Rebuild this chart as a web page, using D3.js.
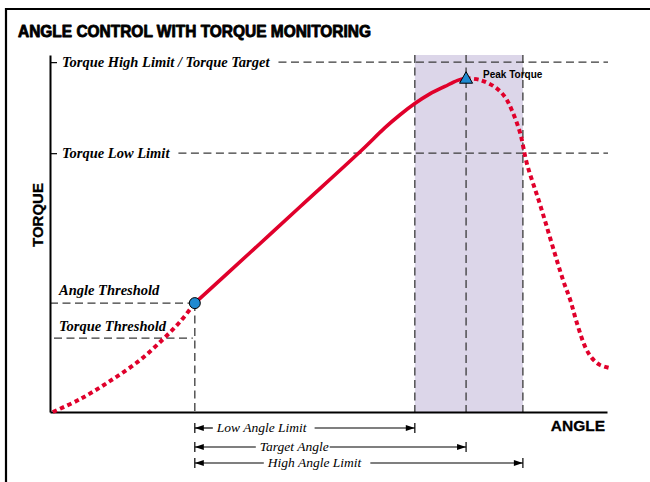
<!DOCTYPE html>
<html>
<head>
<meta charset="utf-8">
<script src="https://cdn.jsdelivr.net/npm/d3@7"></script>
<style>
  html, body { margin: 0; padding: 0; background: #fff; }
  svg { display: block; }
</style>
</head>
<body>
<svg id="chart" width="650" height="482"></svg>
<script>
// Torque (% of full scale) versus rotation angle (% of full scale)
const rampAngle   = [0.5, 5.4, 10.8, 16.2, 20.3, 23.3, 26.0];
const rampTorque  = [0.0, 3.6, 8.7, 14.6, 20.4, 25.2, 30.5];

const controlAngle  = [26.0, 35.9, 44.9, 56.0, 60.1, 62.8, 65.5, 68.2, 70.9, 73.2, 74.7];
const controlTorque = [30.5, 44.6, 57.5, 73.4, 79.6, 83.2, 86.4, 89.1, 91.2, 92.9, 93.5];

const yieldAngle  = [74.7, 77.2, 79.9, 81.7, 82.9, 84.4, 85.6, 88.0, 92.1, 93.4, 94.6, 96.1, 97.3, 98.7, 100.5];
const yieldTorque = [93.5, 93.0, 91.0, 88.2, 84.6, 78.2, 69.7, 58.0, 37.0, 31.4, 24.9, 18.2, 15.1, 13.2, 12.3];

// Torque limit lines
const limitLabels = ["Torque High Limit / Torque Target", "Torque Low Limit"];
const limitTorque = [98.0, 72.5];

// Threshold point where angle counting begins
const thresholdAngle = 26.0;
const angleThresholdTorque = 30.5;
const torqueThreshold = 20.7;

// Angle window
const angleLabels = ["Low Angle Limit", "Target Angle", "High Angle Limit"];
const angleValues = [65.5, 74.7, 84.9];

// Peak torque
const peakAngle = 74.7;
const peakTorque = 93.5;

const RED = "#e0002b", BLUE = "#1f8ad0", DASH = "#3a3a3a";

const svg = d3.select("#chart");

const x = d3.scaleLinear().domain([0, 100]).range([50, 607]);
const y = d3.scaleLinear().domain([0, 100]).range([412, 55]);

// Outer frame (top and left rules)
svg.append("line").attr("x1", 5).attr("x2", 650).attr("y1", 9).attr("y2", 9)
  .attr("stroke", "#000").attr("stroke-width", 2.2);
svg.append("line").attr("x1", 6).attr("x2", 6).attr("y1", 8).attr("y2", 482)
  .attr("stroke", "#000").attr("stroke-width", 2.2);

// Title
svg.append("text")
  .attr("x", 18).attr("y", 37)
  .attr("font-family", "Liberation Sans, Arial, sans-serif")
  .attr("font-weight", "bold").attr("font-size", 17)
  .attr("stroke", "#000").attr("stroke-width", 0.9).attr("stroke-linejoin", "round")
  .attr("textLength", 353).attr("lengthAdjust", "spacingAndGlyphs")
  .text("ANGLE CONTROL WITH TORQUE MONITORING");

// Angle window band
svg.append("rect")
  .attr("x", x(angleValues[0])).attr("y", y(100))
  .attr("width", x(angleValues[2]) - x(angleValues[0]))
  .attr("height", y(0) - y(100))
  .attr("fill", "#dcd6e9");

const dashed = sel => sel.attr("stroke", DASH).attr("stroke-width", 1.3)
  .attr("stroke-dasharray", "8,4.5").attr("fill", "none");

// Vertical dashed lines through the angle window
svg.selectAll("line.vwin").data(angleValues).join("line")
  .attr("class", "vwin")
  .attr("x1", d => x(d)).attr("x2", d => x(d))
  .attr("y1", y(100)).attr("y2", y(0))
  .call(dashed);

// Torque limit labels and dashed lines
const serifFont = "Liberation Serif, Times New Roman, serif";
limitLabels.forEach((lab, i) => {
  const t = svg.append("text")
    .attr("x", 62).attr("y", y(limitTorque[i]) + 4.5)
    .attr("font-family", serifFont).attr("font-style", "italic")
    .attr("font-weight", "bold").attr("font-size", 14.5)
    .text(lab);
  const w = t.node().getComputedTextLength();
  svg.append("line")
    .attr("x1", 62 + w + 9).attr("x2", 608)
    .attr("y1", y(limitTorque[i])).attr("y2", y(limitTorque[i]))
    .call(dashed);
});

// Threshold guides
svg.append("line")
  .attr("x1", x(0)).attr("x2", x(thresholdAngle))
  .attr("y1", y(angleThresholdTorque)).attr("y2", y(angleThresholdTorque))
  .call(dashed);
svg.append("line")
  .attr("x1", x(0) + 4).attr("x2", x(thresholdAngle) - 2)
  .attr("y1", y(torqueThreshold)).attr("y2", y(torqueThreshold))
  .call(dashed);
svg.append("line")
  .attr("x1", x(thresholdAngle)).attr("x2", x(thresholdAngle))
  .attr("y1", y(angleThresholdTorque)).attr("y2", y(0))
  .call(dashed);

svg.append("text")
  .attr("x", 59).attr("y", y(angleThresholdTorque) - 8)
  .attr("font-family", serifFont).attr("font-style", "italic")
  .attr("font-weight", "bold").attr("font-size", 14.5)
  .text("Angle Threshold");
svg.append("text")
  .attr("x", 59).attr("y", y(torqueThreshold) - 7)
  .attr("font-family", serifFont).attr("font-style", "italic")
  .attr("font-weight", "bold").attr("font-size", 14.5)
  .text("Torque Threshold");

// Axes
const yAxis = d3.axisLeft(y).tickValues(limitTorque).tickSize(-7).tickSizeOuter(0).tickFormat("");
const gy = svg.append("g").attr("transform", `translate(${x(0)},0)`).call(yAxis);
gy.select(".domain").attr("stroke", "#000").attr("stroke-width", 2);
gy.selectAll(".tick line").attr("stroke", "#000").attr("stroke-width", 1.2);

const xAxis = d3.axisBottom(x).tickValues([]).tickSizeOuter(0);
const gx = svg.append("g").attr("transform", `translate(0,${y(0)})`).call(xAxis);
gx.select(".domain").attr("stroke", "#000").attr("stroke-width", 2);

svg.append("text")
  .attr("x", 605).attr("y", 431).attr("text-anchor", "end")
  .attr("font-family", "Liberation Sans, Arial, sans-serif")
  .attr("font-weight", "bold").attr("font-size", 15.5)
  .attr("stroke", "#000").attr("stroke-width", 0.3)
  .text("ANGLE");
svg.append("text")
  .attr("transform", "translate(43,215) rotate(-90)")
  .attr("text-anchor", "middle")
  .attr("font-family", "Liberation Sans, Arial, sans-serif")
  .attr("font-weight", "bold").attr("font-size", 15)
  .attr("stroke", "#000").attr("stroke-width", 0.3)
  .text("TORQUE");

// Torque curve
const line = d3.line().x(d => x(d[0])).y(d => y(d[1])).curve(d3.curveCatmullRom.alpha(0.5));
const zip = (a, b) => a.map((v, i) => [v, b[i]]);

svg.append("path").datum(zip(rampAngle, rampTorque))
  .attr("d", line).attr("fill", "none").attr("stroke", RED)
  .attr("stroke-width", 4).attr("stroke-dasharray", "4.5,3.5");
svg.append("path").datum(zip(controlAngle, controlTorque))
  .attr("d", line).attr("fill", "none").attr("stroke", RED)
  .attr("stroke-width", 3.6);
svg.append("path").datum(zip(yieldAngle, yieldTorque))
  .attr("d", line).attr("fill", "none").attr("stroke", RED)
  .attr("stroke-width", 4).attr("stroke-dasharray", "4.5,3.5");

// Threshold marker
svg.append("circle")
  .attr("cx", x(thresholdAngle)).attr("cy", y(angleThresholdTorque)).attr("r", 5.5)
  .attr("fill", BLUE).attr("stroke", "#000").attr("stroke-width", 1);

// Peak marker
const px = x(peakAngle), py = y(peakTorque);
svg.append("path")
  .attr("d", `M${px},${py - 6.5} L${px + 6.5},${py + 5} L${px - 6.5},${py + 5} Z`)
  .attr("fill", BLUE).attr("stroke", "#000").attr("stroke-width", 1);
svg.append("text")
  .attr("x", px + 17).attr("y", py - 0.5)
  .attr("font-family", "Liberation Sans, Arial, sans-serif")
  .attr("font-weight", "bold").attr("font-size", 10)
  .text("Peak Torque");

// Angle dimension arrows
const rowY = [428, 447, 463];
const textStart = [22, 65, 73];   // px from the threshold bar to the label
const textGap = [8, 1, 9];        // px between label and the right-hand line
const head = 9, half = 3;
angleLabels.forEach((lab, i) => {
  const x0 = x(thresholdAngle), x1 = x(angleValues[i]), yy = rowY[i];
  const g = svg.append("g");
  const t = g.append("text")
    .attr("x", x0 + textStart[i]).attr("y", yy + 4)
    .attr("font-family", serifFont).attr("font-style", "italic")
    .attr("font-size", 13.5).text(lab);
  const w = t.node().getComputedTextLength();
  g.append("line").attr("x1", x0).attr("x2", x0 + textStart[i] - 4)
    .attr("y1", yy).attr("y2", yy).attr("stroke", "#000").attr("stroke-width", 1.2);
  g.append("line").attr("x1", x0 + textStart[i] + w + textGap[i]).attr("x2", x1)
    .attr("y1", yy).attr("y2", yy).attr("stroke", "#000").attr("stroke-width", 1.2);
  g.append("path").attr("d", `M${x0},${yy} L${x0 + head},${yy - half} L${x0 + head},${yy + half} Z`).attr("fill", "#000");
  g.append("path").attr("d", `M${x1},${yy} L${x1 - head},${yy - half} L${x1 - head},${yy + half} Z`).attr("fill", "#000");
  [x0, x1].forEach(bx => g.append("line")
    .attr("x1", bx).attr("x2", bx).attr("y1", yy - 5).attr("y2", yy + 5)
    .attr("stroke", "#000").attr("stroke-width", 1.2));
});
</script>
</body>
</html>
